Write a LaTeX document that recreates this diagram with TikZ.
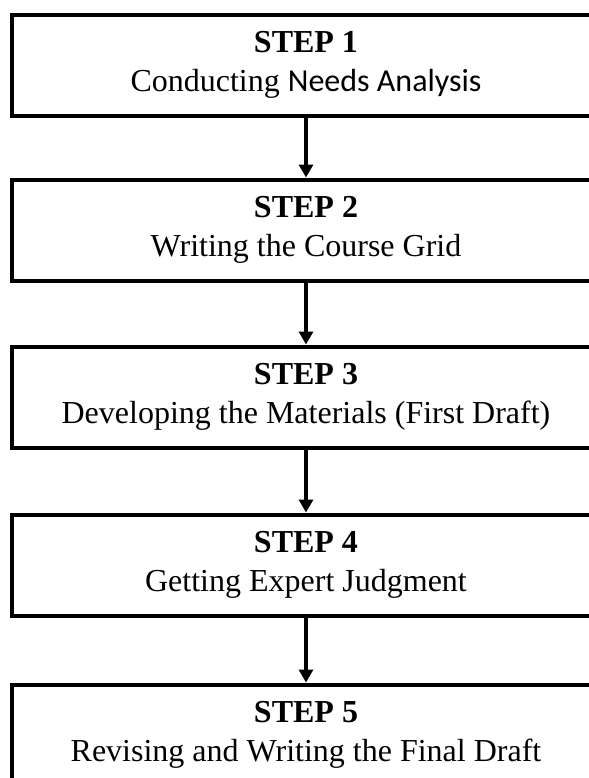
\documentclass[tikz,border=0pt]{standalone}
\usepackage{fontspec}
\setmainfont{Liberation Serif}
\newfontfamily\calibrifont{Carlito}
\usepackage{tikz}
\usetikzlibrary{arrows.meta}
\tikzset{StepBox/.style={rectangle,draw,line width=2pt,minimum width=294pt,minimum height=50.5pt,align=center,font=\fontsize{16}{19.5}\selectfont}}
\tikzset{StepArrow/.style={-{Triangle[length=6.5pt,width=7pt]},line width=1.6pt}}

\begin{document}
\begin{tikzpicture}[x=0.5pt,y=-0.5pt]
\clip (0,0) rectangle (589,778);
\node (s1) at (306,65) [StepBox] {\textbf{STEP 1}\\Conducting {\calibrifont Needs Analysis}};
\node (s2) at (306,230) [StepBox] {\textbf{STEP 2}\\Writing the Course Grid};
\node (s3) at (306,397) [StepBox] {\textbf{STEP 3}\\Developing the Materials (First Draft)};
\node (s4) at (306,565) [StepBox] {\textbf{STEP 4}\\Getting Expert Judgment};
\node (s5) at (306,735) [StepBox] {\textbf{STEP 5}\\Revising and Writing the Final Draft};
\draw [StepArrow] (s1) -- (s2);
\draw [StepArrow] (s2) -- (s3);
\draw [StepArrow] (s3) -- (s4);
\draw [StepArrow] (s4) -- (s5);
\end{tikzpicture}
\end{document}
